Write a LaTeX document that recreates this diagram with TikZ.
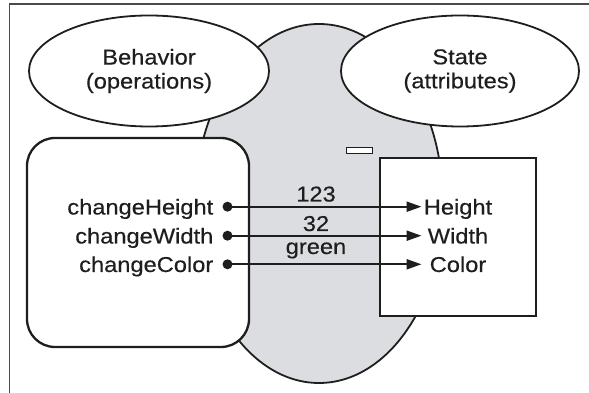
\documentclass[tikz,border=0pt]{standalone}
\usepackage{fontspec}
\setmainfont{Liberation Sans}[FakeStretch=1.1,FakeBold=0.4]
\usetikzlibrary{shapes.geometric,arrows.meta}
\definecolor{blobgray}{RGB}{220,221,224}
\definecolor{ink}{RGB}{30,30,30}
\tikzset{
  lbl/.style={font=\fontsize{21.5}{24}\selectfont, text=ink, inner sep=0pt},
  oval/.style={ellipse, draw=ink, line width=1.8pt, fill=white, inner sep=0pt, align=center, font=\fontsize{21.5}{24}\selectfont, text=ink},
  box/.style={draw=ink, line width=2.3pt, fill=white, inner sep=0pt, outer sep=0pt},
  dotnode/.style={circle, fill=ink, inner sep=0pt, minimum size=10pt},
  msg/.style={line width=2.2pt, draw=ink, -{Triangle[length=15pt,width=10pt]}}
}
\begin{document}
\begin{tikzpicture}[x=1pt,y=1pt]
\useasboundingbox (0,0) rectangle (589,393);
% frame
\draw[line width=1.6pt, draw=ink!80] (9.4,0) -- (9.4,389) -- (589,389);
% object body
\node[ellipse, draw=ink, line width=1.8pt, fill=blobgray, minimum width=248, minimum height=359, inner sep=0pt] (blob) at (319,189.5) {};
% ellipses
\node[oval, minimum width=240, minimum height=111] (beh) at (149,322) {Behavior\\(operations)};
\node[oval, minimum width=238, minimum height=111] (sta) at (460,322) {State\\(attributes)};
% boxes
\node[box, rounded corners=28pt, minimum width=222, minimum height=209] (ops) at (138,150.5) {};
\node[box, minimum width=155.7, minimum height=158] (att) at (457.85,156) {};
\node[draw=ink, line width=1.5pt, fill=white, inner sep=0pt, minimum width=26, minimum height=6] (slot) at (359.7,242.3) {};
% operation labels
\node[lbl, anchor=base east] (oh) at (213.5,178.5) {changeHeight};
\node[lbl, anchor=base east] (ow) at (213.5,149.5) {changeWidth};
\node[lbl, anchor=base east] (oc) at (213.5,121) {changeColor};
% attribute labels
\node[lbl, anchor=base] (ah) at (458,178.5) {Height};
\node[lbl, anchor=base] (aw) at (458,149.5) {Width};
\node[lbl, anchor=base] (ac) at (458,121) {Color};
% dots and arrow ends
\node[dotnode] (d1) at (227.5,186.3) {};
\node[dotnode] (d2) at (227.5,157.3) {};
\node[dotnode] (d3) at (227.5,128.7) {};
\coordinate (t1) at (421.5,186.3);
\coordinate (t2) at (421.5,157.3);
\coordinate (t3) at (421.5,128.7);
\draw[msg] (d1.center) -- (t1);
\draw[msg] (d2.center) -- (t2);
\draw[msg] (d3.center) -- (t3);
% values
\node[lbl, anchor=base] (v1) at (316,191.5) {123};
\node[lbl, anchor=base] (v2) at (316,162) {32};
\node[lbl, anchor=base] (v3) at (316,139) {green};
\end{tikzpicture}
\end{document}
